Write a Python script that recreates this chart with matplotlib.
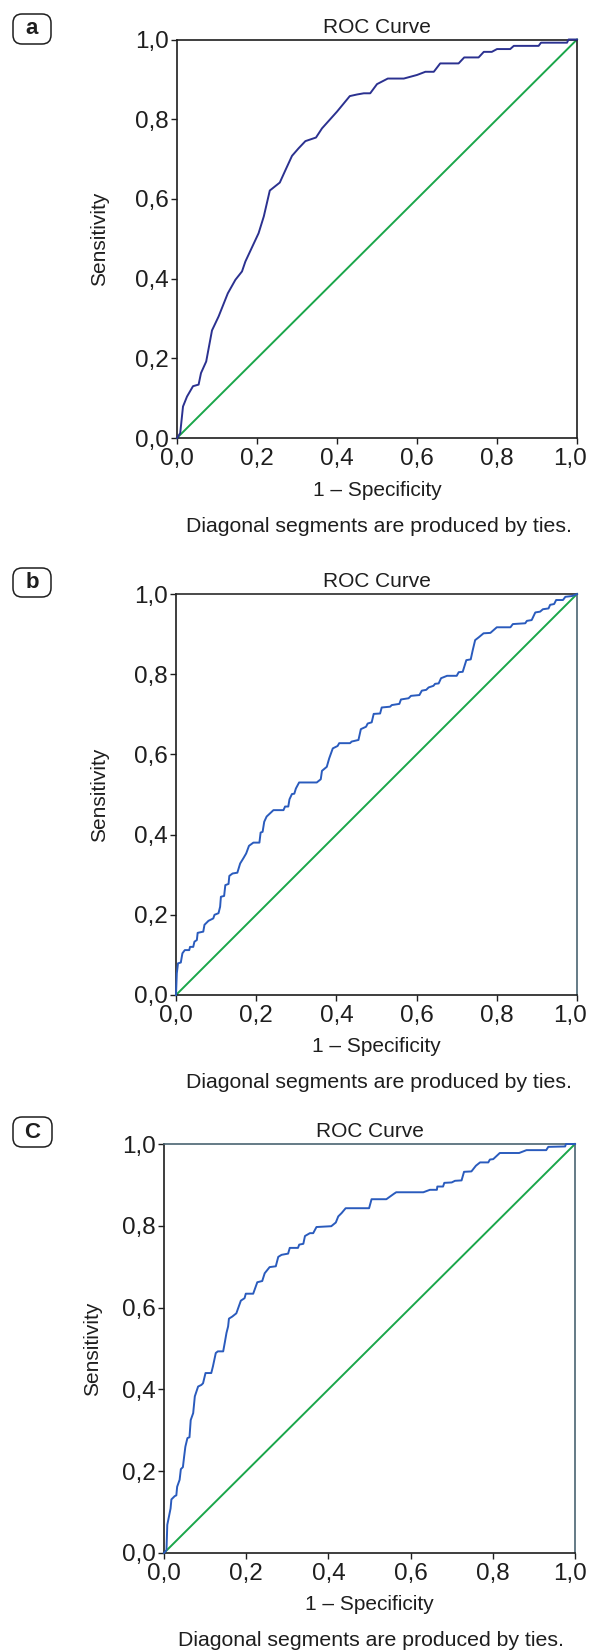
import matplotlib
matplotlib.use('Agg')
import matplotlib.pyplot as plt
from matplotlib.patches import FancyBboxPatch
from matplotlib.ticker import FuncFormatter
from matplotlib.transforms import ScaledTranslation

plt.rcParams['font.family'] = ['Liberation Sans', 'DejaVu Sans']

# ROC curve (a)
fpr_a = [0.0, 0.008, 0.015, 0.025, 0.04, 0.054, 0.06, 0.073, 0.0875, 0.104, 0.127, 0.146,
         0.1625, 0.171, 0.204, 0.217, 0.232, 0.257, 0.271, 0.2875, 0.304, 0.321, 0.3475,
         0.3625, 0.4, 0.432, 0.45, 0.467, 0.483, 0.5, 0.527, 0.567, 0.6, 0.621, 0.642,
         0.658, 0.704, 0.718, 0.754, 0.767, 0.787, 0.8, 0.833, 0.842, 0.904, 0.91, 0.975,
         0.979, 1.0]
tpr_a = [0.0, 0.012, 0.079, 0.104, 0.13, 0.134, 0.163, 0.192, 0.27, 0.305, 0.363, 0.397,
         0.418, 0.443, 0.514, 0.556, 0.621, 0.641, 0.672, 0.708, 0.727, 0.745, 0.754,
         0.777, 0.819, 0.858, 0.862, 0.865, 0.865, 0.888, 0.902, 0.902, 0.911, 0.919, 0.919,
         0.94, 0.94, 0.955, 0.955, 0.969, 0.969, 0.976, 0.976, 0.984, 0.984, 0.992, 0.992,
         1.0, 1.0]

# ROC curve (b)
fpr_b = [0.0, 0.002, 0.005, 0.012, 0.016, 0.022, 0.033, 0.035, 0.043, 0.046, 0.052, 0.054,
         0.068, 0.071, 0.081, 0.093, 0.096, 0.106, 0.11, 0.112, 0.12, 0.123, 0.131, 0.133,
         0.141, 0.153, 0.16, 0.168, 0.175, 0.182, 0.193, 0.208, 0.211, 0.216, 0.22, 0.226,
         0.243, 0.268, 0.272, 0.28, 0.283, 0.289, 0.295, 0.299, 0.307, 0.351, 0.361, 0.364,
         0.376, 0.382, 0.391, 0.403, 0.407, 0.434, 0.438, 0.455, 0.461, 0.474, 0.478, 0.488,
         0.493, 0.509, 0.513, 0.534, 0.538, 0.557, 0.561, 0.58, 0.586, 0.607, 0.613, 0.624,
         0.63, 0.642, 0.646, 0.655, 0.661, 0.676, 0.7, 0.705, 0.715, 0.724, 0.735, 0.74,
         0.746, 0.755, 0.767, 0.784, 0.8, 0.834, 0.84, 0.871, 0.875, 0.887, 0.896, 0.908,
         0.915, 0.929, 0.933, 0.943, 0.948, 0.965, 0.971, 0.988, 1.0]
tpr_b = [0.0, 0.054, 0.079, 0.081, 0.104, 0.112, 0.112, 0.12, 0.12, 0.133, 0.137, 0.155,
         0.158, 0.175, 0.185, 0.191, 0.2, 0.204, 0.22, 0.245, 0.247, 0.274, 0.277, 0.297,
         0.303, 0.305, 0.328, 0.341, 0.353, 0.372, 0.38, 0.38, 0.405, 0.407, 0.432, 0.445,
         0.461, 0.461, 0.47, 0.47, 0.488, 0.501, 0.502, 0.515, 0.53, 0.53, 0.538, 0.559,
         0.569, 0.59, 0.615, 0.621, 0.628, 0.628, 0.632, 0.636, 0.663, 0.669, 0.677, 0.68,
         0.701, 0.702, 0.717, 0.719, 0.723, 0.726, 0.737, 0.74, 0.746, 0.748, 0.759, 0.761,
         0.767, 0.771, 0.776, 0.777, 0.79, 0.796, 0.796, 0.805, 0.806, 0.835, 0.837, 0.86,
         0.885, 0.892, 0.902, 0.903, 0.917, 0.917, 0.925, 0.927, 0.933, 0.935, 0.954, 0.956,
         0.962, 0.964, 0.973, 0.975, 0.985, 0.985, 0.993, 0.995, 1.0]

# ROC curve (c)
fpr_c = [0.0, 0.006, 0.008, 0.012, 0.016, 0.018, 0.026, 0.03, 0.032, 0.038, 0.041, 0.046,
         0.049, 0.052, 0.057, 0.062, 0.065, 0.071, 0.075, 0.083, 0.091, 0.095, 0.101, 0.115,
         0.119, 0.126, 0.131, 0.144, 0.148, 0.152, 0.156, 0.158, 0.166, 0.176, 0.187, 0.196,
         0.199, 0.217, 0.227, 0.239, 0.245, 0.257, 0.272, 0.278, 0.286, 0.302, 0.306, 0.326,
         0.329, 0.339, 0.343, 0.355, 0.363, 0.371, 0.407, 0.418, 0.424, 0.432, 0.442, 0.499,
         0.505, 0.541, 0.559, 0.565, 0.631, 0.647, 0.664, 0.665, 0.679, 0.682, 0.7, 0.708,
         0.724, 0.73, 0.748, 0.759, 0.769, 0.789, 0.793, 0.801, 0.817, 0.864, 0.882, 0.93,
         0.935, 0.976, 0.978, 1.0]
tpr_c = [0.0, 0.007, 0.069, 0.089, 0.109, 0.131, 0.139, 0.141, 0.162, 0.179, 0.205, 0.21,
         0.236, 0.26, 0.281, 0.283, 0.325, 0.342, 0.383, 0.407, 0.411, 0.415, 0.44, 0.44,
         0.456, 0.489, 0.493, 0.493, 0.515, 0.538, 0.554, 0.573, 0.578, 0.586, 0.617, 0.623,
         0.634, 0.634, 0.662, 0.665, 0.684, 0.699, 0.701, 0.724, 0.729, 0.732, 0.746, 0.746,
         0.754, 0.756, 0.775, 0.782, 0.782, 0.797, 0.799, 0.808, 0.823, 0.831, 0.843, 0.843,
         0.865, 0.865, 0.878, 0.882, 0.882, 0.888, 0.888, 0.896, 0.896, 0.905, 0.906, 0.91,
         0.911, 0.932, 0.933, 0.947, 0.955, 0.955, 0.962, 0.963, 0.978, 0.978, 0.985, 0.985,
         0.993, 0.994, 1.0, 1.0]

ref_line = [0.0, 1.0]
tick_vals = [0.0, 0.2, 0.4, 0.6, 0.8, 1.0]
panel_letters = ['a', 'b', 'C']
title = 'ROC Curve'
xlab = '1 \u2013 Specificity'
ylab = 'Sensitivity'
note = 'Diagonal segments are produced by ties.'

W, H = 589, 1652
fig = plt.figure(figsize=(W / 100, H / 100), dpi=100)


def px_box(left, top, right, bottom):
    return [left / W, 1 - bottom / H, (right - left) / W, (bottom - top) / H]


panels = [
    # axes box (px), curve colour, right/top spine colour, ylabel x, note x, note y, letter box
    dict(box=(177, 39.5, 577, 438), fpr=fpr_a, tpr=tpr_a, col='#2b3190',
         rcol='#1e1e1e', tcol='#1e1e1e', ylx=100, notex=379, notey=526, lab=(13, 14, 51, 44)),
    dict(box=(176, 594, 577, 995), fpr=fpr_b, tpr=tpr_b, col='#2a5bbd',
         rcol='#4a6572', tcol='#2a2a2a', ylx=100, notex=379, notey=1083, lab=(13, 568, 51, 597)),
    dict(box=(164, 1144, 575, 1553), fpr=fpr_c, tpr=tpr_c, col='#2a5bbd',
         rcol='#4a6572', tcol='#4a6572', ylx=93, notex=371, notey=1641, lab=(13, 1117, 52, 1147)),
]

fmt = FuncFormatter(lambda v, p: f'{v:.1f}'.replace('.', ','))

for i, p in enumerate(panels):
    l, t, r, b = p['box']
    ax = fig.add_axes(px_box(l, t, r, b))
    ax.plot(ref_line, ref_line, color='#1aa64a', lw=1.4, clip_on=False, zorder=2)
    ax.plot(p['fpr'], p['tpr'], color=p['col'], lw=1.4, clip_on=False, zorder=3)
    ax.set_xlim(0, 1)
    ax.set_ylim(0, 1)
    ax.set_xticks(tick_vals)
    ax.set_yticks(tick_vals)
    ax.xaxis.set_major_formatter(fmt)
    ax.yaxis.set_major_formatter(fmt)
    ax.tick_params(direction='out', length=4.5, width=1.0, labelsize=17.5, pad=1.5,
                   colors='#1e1e1e')
    ax.tick_params(axis='x', pad=3)
    for s in ['left', 'bottom']:
        ax.spines[s].set_color('#1e1e1e')
        ax.spines[s].set_linewidth(1.2)
    ax.spines['right'].set_color(p['rcol'])
    ax.spines['top'].set_color(p['tcol'])
    ax.spines['right'].set_linewidth(1.2)
    ax.spines['top'].set_linewidth(1.2)

    # keep the last x tick label inside the picture
    last = ax.xaxis.get_major_ticks()[-1].label1
    last.set_ha('right')
    last.set_transform(last.get_transform() + ScaledTranslation((W - 2 - r) / 100, 0, fig.dpi_scale_trans))

    ax.set_title(title, fontsize=15, pad=5, color='#1e1e1e')
    ax.set_xlabel(xlab, fontsize=15, color='#1e1e1e')
    ax.xaxis.set_label_coords(0.5, -(52 / (b - t)))
    ax.xaxis.label.set_va('center')
    ax.set_ylabel(ylab, fontsize=15, color='#1e1e1e')
    ax.yaxis.set_label_coords((p['ylx'] - l) / (r - l), 0.5)
    ax.yaxis.label.set_va('center')

    fig.text(p['notex'] / W, 1 - p['notey'] / H, note, fontsize=15.3,
             ha='center', va='center', color='#1e1e1e')

    # panel letter in rounded box
    x0, y0, x1, y1 = p['lab']
    patch = FancyBboxPatch((x0 / 100, (H - y1) / 100), (x1 - x0) / 100, (y1 - y0) / 100,
                           boxstyle='round,pad=0,rounding_size=0.09',
                           transform=fig.dpi_scale_trans, facecolor='white',
                           edgecolor='#1e1e1e', lw=1.1)
    fig.patches.append(patch)
    fig.text((x0 + x1) / 2 / W, 1 - (y0 + y1) / 2 / H, panel_letters[i], fontsize=16,
             fontweight='bold', ha='center', va='center', color='#1e1e1e')

fig.savefig('out.png', dpi=100)
